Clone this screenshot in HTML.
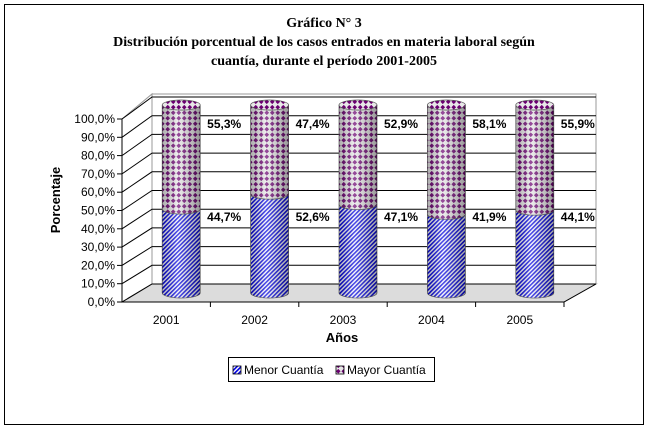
<!DOCTYPE html>
<html><head><meta charset="utf-8"><style>
body{margin:0;background:#fff;}
svg{display:block;font-family:"Liberation Sans",sans-serif;}
.t{font-family:"Liberation Serif",serif;font-weight:bold;font-size:14px;}
</style></head><body>
<svg id="c" width="648" height="430" viewBox="0 0 648 430">
<defs>
<pattern id="stripe" width="3" height="3" patternUnits="userSpaceOnUse" patternTransform="rotate(45)">
<rect width="3" height="3" fill="#fff"/><rect width="1.6" height="3" fill="#0000e0"/></pattern>
<pattern id="dots" width="5.5" height="5.5" patternUnits="userSpaceOnUse">
<rect width="5.5" height="5.5" fill="#e8e8e8"/><path d="M2.75 0.4 L5.1 2.75 L2.75 5.1 L0.4 2.75Z" fill="#6a0070"/></pattern>
<linearGradient id="shade" x1="0" x2="1" y1="0" y2="0">
<stop offset="0" stop-color="#000" stop-opacity="0.25"/>
<stop offset="0.4" stop-color="#fff" stop-opacity="0.3"/>
<stop offset="1" stop-color="#000" stop-opacity="0.35"/></linearGradient>
</defs>
<rect x="4.5" y="4.5" width="639" height="420" fill="#fff" stroke="#000"/>
<text class="t" x="324" y="27" text-anchor="middle">Gráfico N° 3</text>
<text class="t" x="324" y="46" text-anchor="middle">Distribución porcentual de los casos entrados en materia laboral según</text>
<text class="t" x="324" y="65" text-anchor="middle">cuantía, durante el período 2001-2005</text>
<g id="plot"></g>
<text x="60" y="200" transform="rotate(-90 60 200)" text-anchor="middle" font-weight="bold" font-size="13">Porcentaje</text>
<text x="342" y="342" text-anchor="middle" font-weight="bold" font-size="13">Años</text>
<g>
<rect x="228.5" y="357.5" width="206" height="24" fill="#fff" stroke="#000"/>
<g><rect x="233" y="366" width="8" height="8" fill="url(#stripe)" stroke="#000" stroke-width="0.8"/><text x="244" y="374" font-size="12">Menor Cuantía</text></g>
<g><rect x="336" y="366" width="8" height="8" fill="url(#dots)" stroke="#000" stroke-width="0.8"/><text x="347" y="374" font-size="12">Mayor Cuantía</text></g>
</g>
</svg>
<script>
const categories=["2001","2002","2003","2004","2005"];
const menor=[44.7,52.6,47.1,41.9,44.1];
const mayor=[55.3,47.4,52.9,58.1,55.9];
const yTicks=[0,10,20,30,40,50,60,70,80,90,100];
const NS="http://www.w3.org/2000/svg";
const g=document.getElementById('plot');
function mk(t,a,p){const e=document.createElementNS(NS,t);for(const k in a)e.setAttribute(k,a[k]);(p||g).appendChild(e);return e;}
const X0=122,X1=564,DX=30,DY=-18;
const yFront=v=>302-v*1.83;
const yBack=v=>284-v*1.87;
const yCyl=v=>293-v*1.88;
const catW=(X1-X0)/categories.length;
const cx=i=>X0+catW*(i+0.5)+15;
let w=mk('path',{d:`M${X0} ${yFront(0)} L${X0} ${yFront(100)} L${X0+DX} ${yBack(100)-3} L${X0+DX} ${yBack(0)}Z`,fill:'#fff',stroke:'#999'});

let bw=mk('rect',{x:X0+DX,y:yBack(100)-3,width:X1+DX-X0-DX+2,height:yBack(0)-yBack(100)+3,fill:'#fff',stroke:'#999'});

let fl=mk('path',{d:`M${X0} ${yFront(0)} L${X1} ${yFront(0)} L${X1+DX+2} ${yBack(0)} L${X0+DX} ${yBack(0)}Z`,fill:'#dcdcdc',stroke:'#999'});

yTicks.forEach(v=>{
 const l=mk('path',{d:`M${X0} ${yFront(v)} L${X0+DX} ${yBack(v)} L${X1+DX+2} ${yBack(v)}`,fill:'none',stroke:'#000','stroke-width':1});
 
 const tk=mk('line',{x1:X0-5,x2:X0,y1:yFront(v),y2:yFront(v),stroke:'#000'});
 
 const t=mk('text',{x:X0-7,y:yFront(v)+4,'text-anchor':'end','font-size':12});
 t.textContent=v.toFixed(1).replace('.',',')+'%';
 
});
mk('line',{x1:X0,x2:X0,y1:yFront(0),y2:yFront(100),stroke:'#000'});
mk('path',{d:`M${X0} ${yFront(0)} L${X1} ${yFront(0)} L${X1+DX+2} ${yBack(0)}`,fill:'none',stroke:'#000'});
const rw=19,ry=5;
function seg(x,y0,y1,fill,name){
 const d=`M${x-rw} ${y0} L${x-rw} ${y1} A${rw} ${ry} 0 0 0 ${x+rw} ${y1} L${x+rw} ${y0} A${rw} ${ry} 0 0 1 ${x-rw} ${y0}Z`;
 const p=mk('path',{d,fill,stroke:'#555','stroke-width':0.7});
 
 mk('path',{d,fill:'url(#shade)',stroke:'none'});
}
categories.forEach((c,i)=>{
 const x=cx(i);
 const yb=yCyl(menor[i]), yt=yCyl(menor[i]+mayor[i]);
 seg(x,yb,yCyl(0),'url(#stripe)','bar-menor-'+c);
 seg(x,yt,yb,'url(#dots)','bar-mayor-'+c);
 const top=mk('ellipse',{cx:x,cy:yt,rx:rw,ry:ry,fill:'url(#dots)',stroke:'#555','stroke-width':0.7});
 
 const l1=mk('text',{x:x+43,y:128,'text-anchor':'middle','font-size':12,'font-weight':'bold'});
 l1.textContent=mayor[i].toFixed(1).replace('.',',')+'%';
 
 const l2=mk('text',{x:x+43,y:221,'text-anchor':'middle','font-size':12,'font-weight':'bold'});
 l2.textContent=menor[i].toFixed(1).replace('.',',')+'%';
 
 const tk=mk('line',{x1:X0+catW*(i+1),x2:X0+catW*(i+1),y1:yFront(0),y2:yFront(0)+5,stroke:'#000'});
 
 const xl=mk('text',{x:X0+catW*(i+0.5),y:324,'text-anchor':'middle','font-size':12});
 xl.textContent=c;
 
});
</script>
</body></html>
